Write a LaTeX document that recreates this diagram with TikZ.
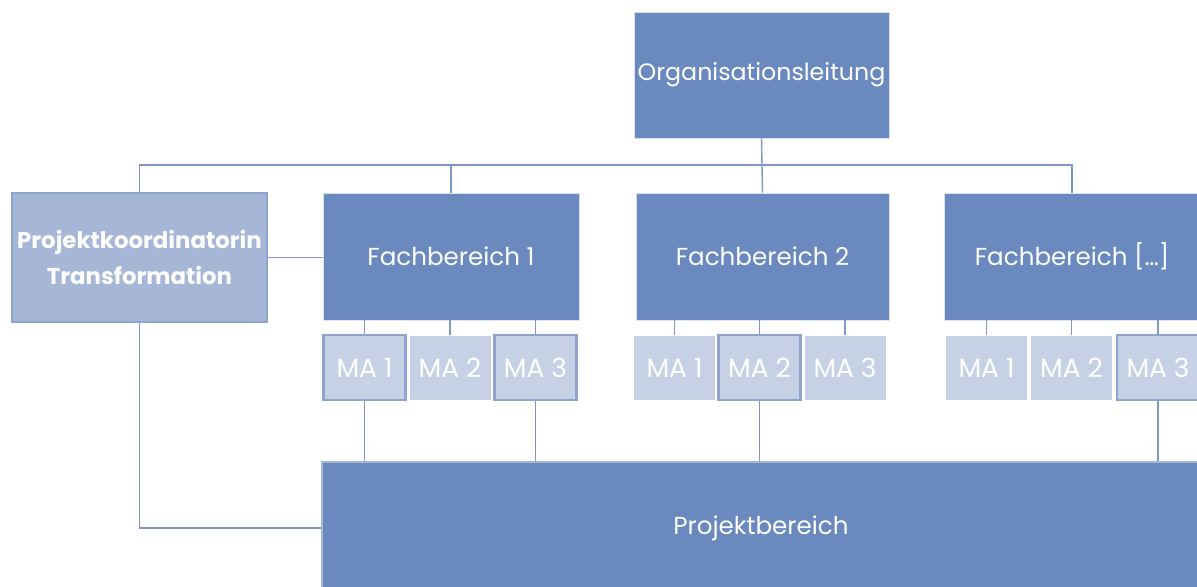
\documentclass[tikz,border=0pt]{standalone}
\usepackage{fontspec}
\setmainfont{Poppins}
\definecolor{OrgBlue}{HTML}{6A89BE}
\definecolor{OrgPale}{HTML}{A5B6D7}
\definecolor{OrgEdge}{HTML}{8FA4CD}
\definecolor{MAFill}{HTML}{C6D1E6}
\definecolor{LineBlue}{HTML}{7D97C8}

\begin{document}
\begin{tikzpicture}[x=0.02cm,y=-0.02cm,
  unit/.style={draw=white!75!OrgBlue,fill=OrgBlue,line width=0.5pt,text=white,
    minimum width=5.12cm,minimum height=2.54cm,inner sep=0pt,
    font=\fontsize{14}{16}\selectfont},
  ma/.style={draw=white,fill=MAFill,line width=0.5pt,text=white,
    minimum width=1.64cm,minimum height=1.3cm,inner sep=0pt,
    font=\fontsize{15}{17}\selectfont},
  mab/.style={ma,draw=OrgEdge,line width=1.2pt},
  link/.style={draw=LineBlue,line width=0.8pt}]
  \useasboundingbox (0,0) rectangle (1197,587);
  \clip (0,0) rectangle (1197,587);
  \node[unit,minimum width=5.1cm,minimum height=2.52cm,font=\fontsize{13.5}{16}\selectfont]
    (org) at (761.5,75) {Organisationsleitung};
  \node[unit,fill=OrgPale,draw=OrgEdge,line width=1.6pt,minimum width=5.1cm,
    minimum height=2.58cm,align=center,font=\fontsize{13}{20}\selectfont\bfseries] (pk)
    at (139.5,257.5) {Projektkoordinatorin\\Transformation};
  \node[unit] (fb1) at (451,256.5) {Fachbereich 1};
  \node[unit,minimum width=5.06cm] (fb2) at (762.5,256.5) {Fachbereich 2};
  \node[unit] (fb3) at (1072,256.5) {Fachbereich […]};
  % Mitarbeitende
  \node[mab] (ma11) at (364.5,367.5) {MA 1};
  \node[ma]  (ma12) at (450,367.5) {MA 2};
  \node[mab] (ma13) at (535.5,367.5) {MA 3};
  \node[ma]  (ma21) at (674.5,367.5) {MA 1};
  \node[mab] (ma22) at (759.5,367.5) {MA 2};
  \node[ma]  (ma23) at (845,367.5) {MA 3};
  \node[ma]  (ma31) at (986.5,367.5) {MA 1};
  \node[ma]  (ma32) at (1071.5,367.5) {MA 2};
  \node[mab] (ma33) at (1158,367.5) {MA 3};
  \node[unit,draw=OrgPale,line width=1.6pt,minimum width=17.56cm,minimum height=2.64cm]
    (pb) at (761,528) {Projektbereich};
  \coordinate (bus) at (762,165);
  \draw[link] (org.south) -- (fb2.north);
  \draw[link] (pk.north) |- (bus) -| (fb3.north);
  \draw[link] (fb1.north) -- (fb1.north |- bus);
  \draw[link] (pk.east) -- (pk.east -| fb1.west);
  \foreach \f in {1,2,3}{
    \foreach \m in {1,2,3}
      \draw[link] (fb\f.south -| ma\f\m.north) -- (ma\f\m.north);
  }
  \draw[link] (ma11.south) -- (ma11.south |- pb.north);
  \draw[link] (ma13.south) -- (ma13.south |- pb.north);
  \draw[link] (ma22.south) -- (ma22.south |- pb.north);
  \draw[link] (ma33.south) -- (ma33.south |- pb.north);
  \draw[link] (pk.south) |- (pb.west);
\end{tikzpicture}
\end{document}
